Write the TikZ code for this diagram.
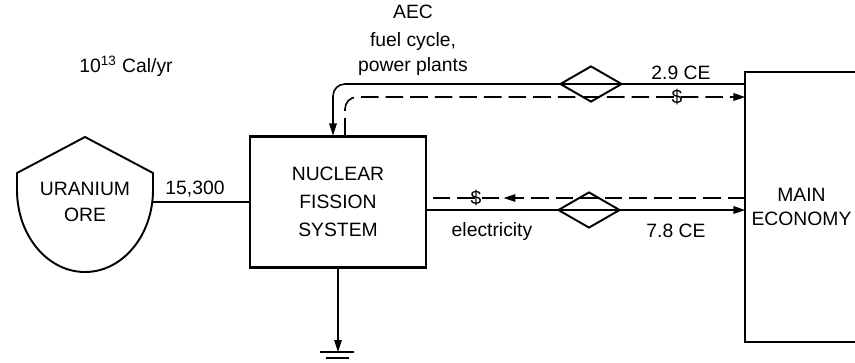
\documentclass[tikz,border=0pt]{standalone}
\usepackage{fontspec}
\setmainfont{Liberation Sans}
\usepackage{tikz}
\usetikzlibrary{shapes.geometric, arrows.meta, calc, decorations.markings}
\tikzstyle{sysbox}   = [rectangle, draw, line width=1.2pt, minimum width=3.52cm,
                         minimum height=2.62cm, align=center, inner sep=0pt]
\tikzstyle{valve}    = [diamond, draw, line width=1.1pt, minimum width=1.24cm,
                         minimum height=0.72cm, inner sep=0pt]
\tikzstyle{flowline} = [line width=0.9pt]
\tikzstyle{arrow}    = [-{Triangle[length=2.4mm, width=1.5mm]}, line width=0.9pt]
\tikzstyle{money}    = [line width=0.9pt, dash pattern=on 10pt off 4pt]

\begin{document}
\begin{tikzpicture}[x=0.02cm, y=-0.02cm, font=\fontsize{11}{14}\selectfont]
  \useasboundingbox (0,0) rectangle (855,362);

  % Units
  \node (units) at (126,66) {10\textsuperscript{13} Cal/yr};

  % Uranium ore
  \node[align=center, minimum width=2.72cm, inner sep=0pt] (ore) at (85,202) {URANIUM\\[1pt]ORE};
  \draw[line width=1.1pt] (17,190) -- (17,173) -- (85,137) -- (153,173) -- (153,190)
    arc[start angle=0, end angle=180, x radius=68, y radius=82];

  % Nuclear fission system
  \node[sysbox] (nfs) at (338,202) {NUCLEAR\\[2pt]FISSION\\[2pt]SYSTEM};

  % Main economy
  \node[minimum width=2.14cm, minimum height=5.4cm, align=center] (econ) at (801.5,207) {MAIN\\ECONOMY};
  \draw[line width=1.2pt] (econ.north east) -- (econ.north west) -- (econ.south west) -- (econ.south east);

  % Exchange valves
  \node[valve] (v1) at (591,84) {};
  \node[valve] (v2) at (589,210) {};

  % Labels
  \node[align=center] (aec) at (413,40) {AEC\\[2pt]fuel cycle,\\power plants};
  \node (e1) at (195,189) {15,300};
  \node (e2) at (681,73) {2.9 CE};
  \node (e3) at (676,231) {7.8 CE};
  \node (elec) at (492,231) {electricity};
  \node (dtop) at (677,97) {\$};
  \node (dbot) at (476,198) {\$};

  % Energy flows
  \draw[flowline] (ore.east) -- (nfs.west);
  \draw[arrow, rounded corners=2.4mm] (econ.west |- v1) -| ($(nfs.north)+(-5,0)$);
  \draw[arrow] (nfs.east |- v2) -- (econ.west |- v2);

  % Money flows
  \draw[money, arrow, rounded corners=2.4mm] ($(nfs.north)+(7,0)$) |- (econ.west |- dtop);
  \draw[money, postaction={decorate}, decoration={markings,
      mark=at position 0.76 with {\arrow{Triangle[length=2.4mm, width=1.5mm]}}}]
    (econ.west |- dbot) -- (nfs.east |- dbot);

  % Ground
  \coordinate (gnd) at (338,352);
  \draw[arrow] (nfs.south) -- (gnd);
  \draw[flowline] ($(gnd)+(-18,0)$) -- ($(gnd)+(16,0)$);
  \draw[flowline] ($(gnd)+(-12,6)$) -- ($(gnd)+(11,6)$);
\end{tikzpicture}
\end{document}
